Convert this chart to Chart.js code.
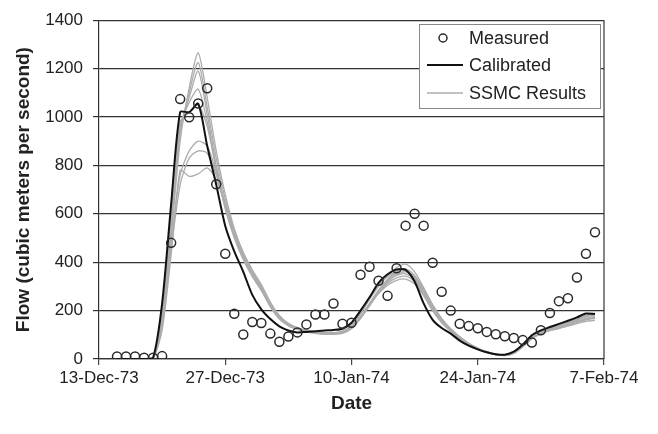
<!DOCTYPE html>
<html>
<head>
<meta charset="utf-8">
<script src="https://cdn.jsdelivr.net/npm/chart.js@4.4.1/dist/chart.umd.min.js"></script>
<style>
  html, body { margin: 0; padding: 0; background: #fff; }
  #wrap { width: 658px; height: 434px; position: relative; }
</style>
</head>
<body>
<div id="wrap"><canvas id="flowChart"></canvas></div>
<script>
// === Daily flow, 15-Dec-73 .. 6-Feb-74 (day 0 = 13-Dec-73) ===
const firstDay = 2;
const tickLabels = ["13-Dec-73", "27-Dec-73", "10-Jan-74", "24-Jan-74", "7-Feb-74"];

const measured = [
  10, 10, 10, 5, 5, 12, 480,
  1074, 999, 1056, 1119, 722, 435, 187,
  101, 153, 149, 105, 71, 93, 110,
  143, 184, 184, 229, 146, 150, 348,
  381, 323, 261, 375, 551, 600, 551,
  398, 278, 200, 146, 136, 127, 112,
  102, 94, 87, 78, 68, 119, 190,
  239, 251, 337, 435, 524
];

const calibrated = [
  0, 0, 0, 0, 5, 230, 640,
  1020, 1020, 1055, 880, 720, 550, 445,
  360, 265, 205, 165, 135, 118, 110,
  112, 115, 118, 120, 125, 150, 200,
  255, 315, 350, 370, 368, 320, 230,
  162, 128, 105, 76, 55, 40, 28,
  20, 18, 30, 60, 98, 118, 132,
  145, 158, 172, 188, 186
];

// SSMC runs
const ssmc1 = [
  0, 0, 0, 0, 3, 140, 500,
  900, 1120, 1265, 1080, 860, 680, 540,
  440, 365, 300, 225, 172, 142, 126,
  116, 110, 106, 105, 110, 132, 175,
  230, 285, 330, 360, 372, 345, 290,
  222, 165, 122, 90, 63, 42, 27,
  18, 15, 25, 55, 90, 110, 124,
  135, 147, 160, 174, 182
];
const ssmc2 = [
  0, 0, 0, 0, 4, 160, 530,
  930, 1100, 1225, 1040, 830, 660, 530,
  430, 355, 292, 222, 170, 140, 124,
  114, 108, 104, 104, 108, 128, 170,
  225, 280, 325, 355, 365, 338, 282,
  215, 160, 120, 88, 61, 40, 26,
  17, 14, 23, 52, 86, 106, 120,
  130, 142, 155, 168, 176
];
const ssmc3 = [
  0, 0, 0, 0, 3, 170, 550,
  950, 1080, 1190, 1010, 800, 640, 515,
  420, 350, 290, 220, 168, 138, 122,
  112, 106, 102, 102, 106, 125, 168,
  220, 275, 318, 348, 360, 335, 285,
  220, 165, 124, 92, 65, 44, 28,
  18, 15, 24, 50, 84, 104, 118,
  128, 140, 152, 165, 172
];
const ssmc4 = [
  0, 0, 0, 0, 5, 190, 580,
  960, 1060, 1115, 980, 790, 630, 505,
  415, 345, 288, 218, 168, 140, 125,
  116, 110, 106, 106, 112, 135, 185,
  245, 300, 345, 378, 392, 360, 295,
  225, 168, 125, 92, 65, 45, 30,
  20, 16, 26, 56, 92, 112, 126,
  138, 150, 164, 180, 190
];
const ssmc5 = [
  0, 0, 0, 0, 5, 200, 600,
  980, 1020, 1050, 960, 780, 620, 500,
  410, 340, 282, 215, 165, 138, 124,
  115, 110, 107, 108, 115, 140, 190,
  250, 305, 340, 362, 368, 330, 265,
  200, 150, 115, 85, 60, 42, 28,
  19, 16, 28, 58, 95, 115, 128,
  140, 152, 165, 178, 186
];
const ssmc6 = [
  0, 0, 0, 0, 4, 150, 480,
  760, 860, 900, 880, 770, 630, 510,
  420, 352, 295, 225, 172, 142, 126,
  117, 111, 107, 106, 110, 130, 172,
  228, 282, 322, 345, 352, 328, 278,
  212, 160, 120, 89, 62, 42, 27,
  18, 15, 24, 52, 86, 106, 120,
  130, 141, 152, 163, 168
];
const ssmc7 = [
  0, 0, 0, 0, 3, 130, 450,
  720, 830, 860, 850, 760, 640, 520,
  430, 360, 302, 230, 176, 145, 128,
  118, 112, 108, 107, 111, 128, 168,
  220, 272, 312, 335, 342, 320, 272,
  208, 158, 120, 90, 64, 44, 29,
  20, 16, 26, 54, 88, 108, 122,
  132, 142, 153, 163, 170
];
const ssmc8 = [
  0, 0, 0, 0, 3, 120, 430,
  780, 755, 765, 790, 740, 640, 525,
  440, 368, 308, 235, 180, 148, 130,
  120, 113, 109, 108, 112, 130, 170,
  222, 270, 305, 325, 330, 310, 262,
  200, 152, 116, 86, 62, 43, 28,
  19, 16, 25, 52, 85, 104, 117,
  126, 136, 146, 156, 160
];
const ssmcRuns = [ssmc1, ssmc2, ssmc3, ssmc4, ssmc5, ssmc6, ssmc7, ssmc8];

const FONT = "'Liberation Sans', Arial, sans-serif";

// series index -> {x: day, y: flow}
function toPoints(values) {
  return values.map((v, i) => ({ x: firstDay + i, y: v }));
}

const datasets = [
  {
    label: "Measured",
    data: toPoints(measured),
    showLine: false,
    pointStyle: "circle",
    pointRadius: 4.5,
    pointBorderWidth: 1.5,
    pointBorderColor: "#2a2a2a",
    pointBackgroundColor: "rgba(255,255,255,0)",
    order: 0
  },
  {
    label: "Calibrated",
    data: toPoints(calibrated),
    borderColor: "#111",
    borderWidth: 2,
    pointRadius: 0,
    tension: 0.25,
    order: 1
  }
];
ssmcRuns.forEach((run, i) => {
  datasets.push({
    label: "SSMC Results",
    data: toPoints(run),
    borderColor: "#adadad",
    borderWidth: 1.3,
    pointRadius: 0,
    tension: 0.25,
    order: 2 + i
  });
});

// frame on the right + legend box in the upper right
const framePlugin = {
  id: "frameAndLegend",
  afterDraw(chart) {
    const { ctx, chartArea } = chart;
    ctx.save();
    ctx.strokeStyle = "#333";
    ctx.lineWidth = 1.2;
    ctx.beginPath();
    ctx.moveTo(chartArea.right, chartArea.top);
    ctx.lineTo(chartArea.right, chartArea.bottom);
    ctx.stroke();

    // legend
    const bx = 419, by = 24, bw = 181, bh = 84;
    ctx.fillStyle = "#fff";
    ctx.fillRect(bx, by, bw, bh);
    ctx.strokeStyle = "#888";
    ctx.lineWidth = 1;
    ctx.strokeRect(bx + 0.5, by + 0.5, bw, bh);

    ctx.font = "18px " + FONT;
    ctx.fillStyle = "#222";
    ctx.textBaseline = "middle";
    ctx.textAlign = "left";
    const rows = [38, 65, 93];
    const names = ["Measured", "Calibrated", "SSMC Results"];

    ctx.beginPath();
    ctx.arc(443, rows[0], 4, 0, Math.PI * 2);
    ctx.strokeStyle = "#2a2a2a";
    ctx.lineWidth = 1.5;
    ctx.stroke();

    ctx.beginPath();
    ctx.moveTo(427, rows[1]);
    ctx.lineTo(463, rows[1]);
    ctx.strokeStyle = "#111";
    ctx.lineWidth = 2;
    ctx.stroke();

    ctx.beginPath();
    ctx.moveTo(427, rows[2]);
    ctx.lineTo(463, rows[2]);
    ctx.strokeStyle = "#adadad";
    ctx.lineWidth = 1.3;
    ctx.stroke();

    names.forEach((n, i) => ctx.fillText(n, 469, rows[i] + 1));
    ctx.restore();
  }
};

new Chart(document.getElementById("flowChart"), {
  type: "line",
  data: { datasets },
  plugins: [framePlugin],
  options: {
    responsive: true,
    maintainAspectRatio: false,
    animation: false,
    layout: { padding: { left: 0, right: 54, top: 17, bottom: 0 } },
    plugins: {
      legend: { display: false },
      tooltip: { enabled: false }
    },
    scales: {
      x: {
        type: "linear",
        min: 0,
        max: 56,
        afterFit: (s) => { s.height = 75; },
        afterBuildTicks: (s) => {
          s.ticks = tickLabels.map((_, i) => ({ value: i * 14 }));
        },
        ticks: {
          autoSkip: false,
          maxRotation: 0,
          padding: 3,
          color: "#222",
          font: { family: FONT, size: 17 },
          callback: (v) => tickLabels[v / 14]
        },
        grid: {
          drawOnChartArea: false,
          drawTicks: true,
          tickLength: 6,
          color: "#444",
          lineWidth: 1.2
        },
        border: { color: "#333", width: 1.2 },
        title: {
          display: true,
          text: "Date",
          color: "#222",
          font: { family: FONT, size: 19, weight: "bold" },
          padding: { top: 0, bottom: 19 }
        }
      },
      y: {
        min: 0,
        max: 1400,
        afterFit: (s) => { s.width = 99; },
        ticks: {
          stepSize: 200,
          padding: 10,
          color: "#222",
          font: { family: FONT, size: 17 },
          callback: (v) => String(v)
        },
        grid: {
          color: "#333",
          lineWidth: 1.2,
          drawTicks: true,
          tickLength: 6
        },
        border: { color: "#333", width: 1.2 },
        title: {
          display: true,
          text: "Flow (cubic meters per second)",
          color: "#222",
          font: { family: FONT, size: 19, weight: "bold" },
          padding: { top: 12, bottom: 0 }
        }
      }
    }
  }
});
</script>
</body>
</html>
